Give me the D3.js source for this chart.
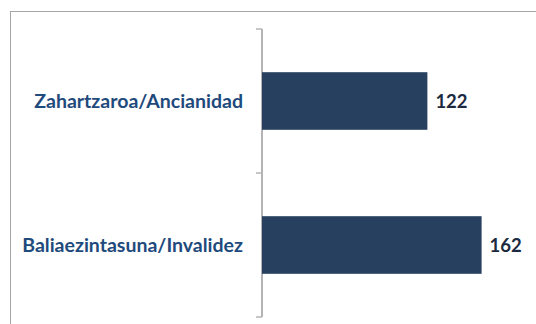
<!DOCTYPE html>
<html><head><meta charset="utf-8">
<script src="https://cdn.jsdelivr.net/npm/d3@7"></script>
<style>html,body{margin:0;padding:0;background:#fff;overflow:hidden}</style>
</head><body>
<svg id="c" width="536" height="324"></svg>
<script>
const categories = ["Zahartzaroa/Ancianidad", "Baliaezintasuna/Invalidez"];
const values = [122, 162];
const xDomain = [0, 180];

const svg = d3.select("#c");
// outer chart frame (clipped by the window at right/bottom)
svg.append("rect").attr("x", 10.5).attr("y", 11.5).attr("width", 540).attr("height", 330)
  .attr("fill", "#fff").attr("stroke", "#a6a6a6").attr("stroke-width", 1);

const x = d3.scaleLinear().domain(xDomain).range([262, 506]);
const y = d3.scaleBand().domain(categories).range([29, 317]).paddingInner(0.6).paddingOuter(0.3);

// axis
const yAxis = d3.axisLeft(y).tickSize(0).tickFormat("");
const g = svg.append("g").attr("transform", "translate(262,0)").call(yAxis);
g.select(".domain").remove();
g.append("line").attr("x1", 0).attr("x2", 0).attr("y1", 29).attr("y2", 317)
  .attr("stroke", "#b4b4b4").attr("stroke-width", 2);
// boundary ticks between categories
const stepB = (317 - 29) / categories.length;
d3.range(categories.length + 1).forEach(i => {
  const yy = 29 + i * stepB;
  g.append("line").attr("x1", -6).attr("x2", 0).attr("y1", yy).attr("y2", yy)
    .attr("stroke", "#b4b4b4").attr("stroke-width", 1.5);
});

// bars
svg.selectAll("rect.bar").data(values).enter().append("rect").attr("class", "bar")
  .attr("x", x(0)).attr("y", (d, i) => y(categories[i]))
  .attr("width", d => x(d) - x(0)).attr("height", y.bandwidth())
  .attr("fill", "#284060");

// value labels
svg.selectAll("text.val").data(values).enter().append("text").attr("class", "val")
  .attr("x", d => x(d) + 8).attr("y", (d, i) => y(categories[i]) + y.bandwidth() / 2)
  .attr("dy", "0.36em")
  .attr("font-family", "Lato, 'Open Sans', sans-serif").attr("font-weight", "bold")
  .attr("font-size", 18.5).attr("fill", "#1b2a40").text(d => d);

// category labels
svg.selectAll("text.cat").data(categories).enter().append("text").attr("class", "cat")
  .attr("x", 243).attr("y", d => y(d) + y.bandwidth() / 2)
  .attr("dy", "0.36em").attr("text-anchor", "end")
  .attr("font-family", "Lato, 'Open Sans', sans-serif").attr("font-weight", "bold")
  .attr("font-size", 19.5).attr("fill", "#1f4a7c").text(d => d);
</script>
</body></html>
